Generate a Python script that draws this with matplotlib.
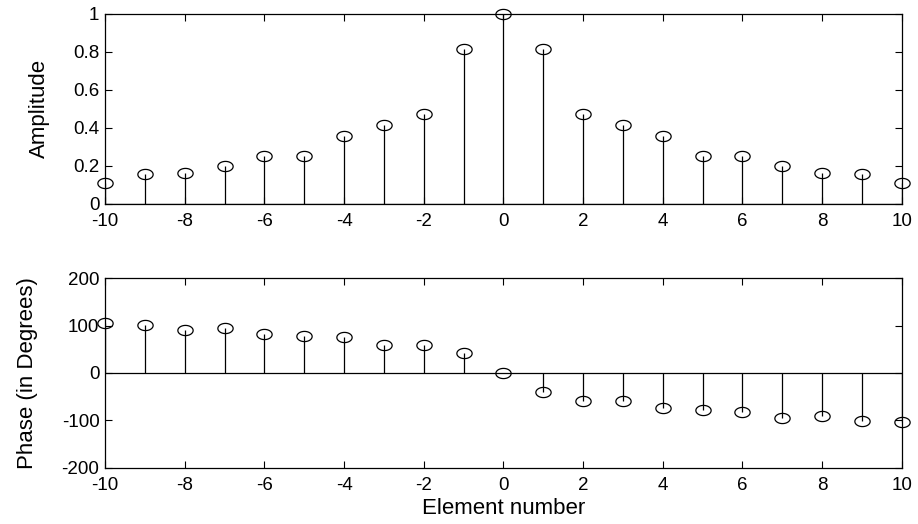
"""Array element excitation: amplitude and phase stem plots (MATLAB-style)."""

import numpy as np
import matplotlib.pyplot as plt
from matplotlib.path import Path

plt.rcParams["font.family"] = ["Liberation Sans", "DejaVu Sans"]
plt.rcParams["axes.unicode_minus"] = False

elements = list(range(-10, 11))
amplitude = [0.11, 0.155, 0.162, 0.197, 0.253, 0.253, 0.357, 0.413, 0.471, 0.814, 1.0,
             0.814, 0.471, 0.413, 0.357, 0.253, 0.253, 0.197, 0.162, 0.155, 0.11]
phase_deg = [105, 102, 90, 96, 82, 79, 76, 59, 59, 42, 0,
             -41, -59, -59, -75, -79, -82, -95, -90, -101, -104]

# MATLAB draws its 'o' markers slightly squashed; mimic with an ellipse path
t = np.linspace(0, 2 * np.pi, 60)
ellipse = Path(np.column_stack([1.5 * np.cos(t), np.sin(t)]), closed=True)


def stem_axes(ax, y, ylim, yticks, ylabel):
    markerline, stemlines, baseline = ax.stem(elements, y, linefmt="k-", markerfmt="ko", basefmt="k-")
    markerline.set_marker(ellipse)
    markerline.set_markersize(11)
    markerline.set_markerfacecolor("none")
    markerline.set_markeredgewidth(0.9)
    markerline.set_clip_on(False)
    stemlines.set_linewidth(0.9)
    baseline.set_linewidth(0.9)
    baseline.set_xdata([-10, 10])
    ax.set_xlim(-10, 10)
    ax.set_ylim(*ylim)
    ax.set_xticks(range(-10, 11, 2))
    ax.set_yticks(yticks)
    ax.set_yticklabels([f"{v:g}" for v in yticks])
    ax.set_ylabel(ylabel, fontsize=16, labelpad=17)
    ax.tick_params(direction="in", top=True, right=True, labelsize=13.5, length=5, width=0.8, pad=4)
    ax.tick_params(axis="x", pad=6.5)
    for sp in ax.spines.values():
        sp.set_linewidth(0.9)


fig = plt.figure(figsize=(9.18, 5.24), dpi=100)
ax1 = fig.add_axes([0.1144, 0.6113, 0.868, 0.362])
ax2 = fig.add_axes([0.1144, 0.1075, 0.868, 0.3614])

stem_axes(ax1, amplitude, (0, 1), [0, 0.2, 0.4, 0.6, 0.8, 1], "Amplitude")
stem_axes(ax2, phase_deg, (-200, 200), [-200, -100, 0, 100, 200], "Phase (in Degrees)")
ax2.set_xlabel("Element number", fontsize=16, labelpad=3)

fig.savefig("out.png", dpi=100)
